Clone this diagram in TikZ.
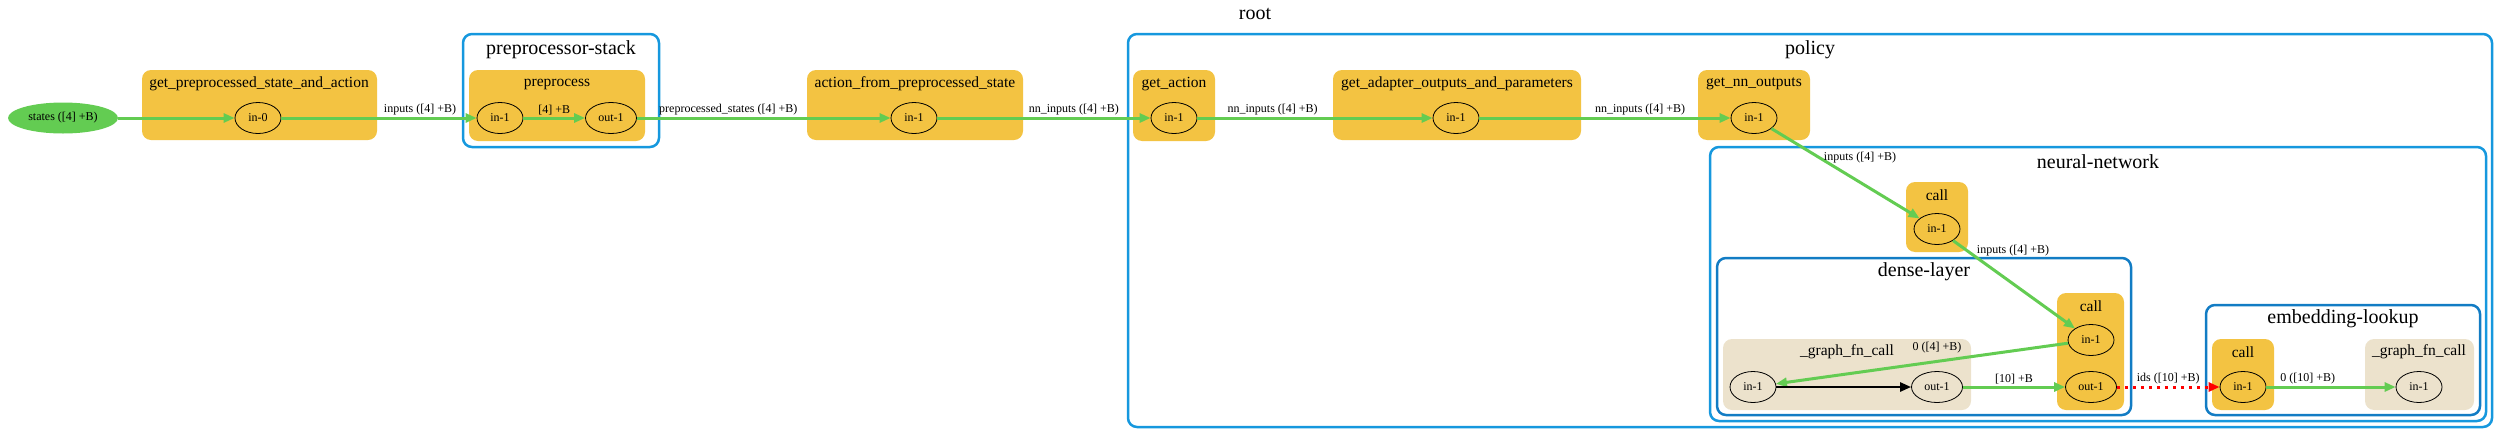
\documentclass[tikz,border=0pt]{standalone}
\usepackage{fontspec}
\setmainfont{Liberation Serif}
\usetikzlibrary{shapes.geometric,arrows.meta}

\definecolor{clusterblue}{RGB}{22,152,222}
\definecolor{innerblue}{RGB}{18,124,196}
\definecolor{fnyellow}{RGB}{243,195,66}
\definecolor{graphtan}{RGB}{236,226,204}
\definecolor{flowgreen}{RGB}{99,204,82}

\tikzset{
  cluster/.style={draw=clusterblue, line width=2.5pt, rounded corners=9pt},
  subcluster/.style={cluster, draw=innerblue},
  fnbox/.style={fill=fnyellow, rounded corners=9pt},
  graphbox/.style={fill=graphtan, rounded corners=9pt},
  clustertitle/.style={font=\fontsize{20}{24}\selectfont, inner sep=0pt},
  boxtitle/.style={font=\fontsize{15.5}{18}\selectfont, inner sep=0pt},
  port/.style={ellipse, draw, line width=0.8pt, minimum width=46pt, minimum height=31pt,
    inner sep=0pt, font=\fontsize{12}{14}\selectfont},
  flow/.style={->, draw=flowgreen, line width=3pt},
  elabel/.style={font=\fontsize{12}{14}\selectfont, inner sep=1pt, text=black},
}

\begin{document}
\begin{tikzpicture}[x=1pt, y=-1pt, >={Triangle[length=11pt, width=9pt]}]
\useasboundingbox (0,0) rectangle (2510,445);

% clusters
\node[clustertitle] (roottitle) at (1255,14) {root};
\draw[cluster] (463,34) rectangle (659,147);
\node[clustertitle] (stacktitle) at (561,50) {preprocessor-stack};
\draw[cluster] (1128,34) rectangle (2492,427);
\node[clustertitle] (policytitle) at (1810,50) {policy};
\draw[cluster] (1710,147) rectangle (2486,421);
\node[clustertitle] (nntitle) at (2098,162) {neural-network};
\draw[subcluster] (1717,258) rectangle (2131,415);
\node[clustertitle] (densetitle) at (1924,272) {dense-layer};
\draw[subcluster] (2206,305) rectangle (2480,415);
\node[clustertitle] (embtitle) at (2343,319) {embedding-lookup};

% function boxes
\fill[fnbox] (142,70) rectangle (377,140);
\node[boxtitle] (gpsatitle) at (259,84) {get\_preprocessed\_state\_and\_action};
\fill[fnbox] (469,70) rectangle (645,141);
\node[boxtitle] (pptitle) at (557,84) {preprocess};
\fill[fnbox] (807,70) rectangle (1023,140);
\node[boxtitle] (afpstitle) at (915,84) {action\_from\_preprocessed\_state};
\fill[fnbox] (1133,70) rectangle (1215,141);
\node[boxtitle] (gatitle) at (1174,84) {get\_action};
\fill[fnbox] (1333,70) rectangle (1581,140);
\node[boxtitle] (gaoptitle) at (1457,84) {get\_adapter\_outputs\_and\_parameters};
\fill[fnbox] (1698,70) rectangle (1810,140);
\node[boxtitle] (gnnotitle) at (1754,84) {get\_nn\_outputs};
\fill[fnbox] (1906,182) rectangle (1968,252);
\node[boxtitle] (nncalltitle) at (1937,195) {call};
\fill[graphbox] (1723,339) rectangle (1971,410);
\node[boxtitle] (densefntitle) at (1847,352) {\_graph\_fn\_call};
\fill[fnbox] (2057,293) rectangle (2124,410);
\node[boxtitle] (densecalltitle) at (2091,306) {call};
\fill[fnbox] (2212,339) rectangle (2274,410);
\node[boxtitle] (embcalltitle) at (2243,352) {call};
\fill[graphbox] (2365,339) rectangle (2474,410);
\node[boxtitle] (embfntitle) at (2419,352) {\_graph\_fn\_call};

% ports
\node[port, fill=flowgreen, draw=none, minimum width=110pt] (states) at (63,118) {states ([4] +B)};
\node[port] (gpsain) at (258,118) {in-0};
\node[port] (ppin) at (500,118) {in-1};
\node[port, minimum width=51pt] (ppout) at (611,118) {out-1};
\node[port] (afpsin) at (914,118) {in-1};
\node[port] (gain) at (1174,118) {in-1};
\node[port] (gaopin) at (1456,118) {in-1};
\node[port] (gnnoin) at (1754,118) {in-1};
\node[port] (nncallin) at (1937,229) {in-1};
\node[port] (densein) at (2091,340) {in-1};
\node[port, minimum width=51pt] (denseout) at (2091,387) {out-1};
\node[port] (densefnin) at (1753,387) {in-1};
\node[port, minimum width=51pt] (densefnout) at (1937,387) {out-1};
\node[port] (embin) at (2243,387) {in-1};
\node[port] (embfnin) at (2419,387) {in-1};

% edges
\draw[flow] (states) -- (gpsain);
\draw[flow] (gpsain) -- node[elabel, pos=0.71, above] {inputs ([4] +B)} (ppin);
\draw[flow] (ppin) -- node[elabel, above] {[4] +B} (ppout);
\draw[flow] (ppout) -- node[elabel, pos=0.36, above] {preprocessed\_states ([4] +B)} (afpsin);
\draw[flow] (afpsin) -- node[elabel, pos=0.64, above] {nn\_inputs ([4] +B)} (gain);
\draw[flow] (gain) -- node[elabel, pos=0.32, above] {nn\_inputs ([4] +B)} (gaopin);
\draw[flow] (gaopin) -- node[elabel, pos=0.64, above] {nn\_inputs ([4] +B)} (gnnoin);
\draw[flow] (gnnoin) -- (nncallin);
\node[elabel] (nninlabel) at (1860,158) {inputs ([4] +B)};
\draw[flow] (nncallin) -- (densein);
\node[elabel] (denseinlabel) at (2013,251) {inputs ([4] +B)};
\draw[flow] (densein) -- (densefnin);
\node[elabel] (densefnlabel) at (1937,348) {0 ([4] +B)};
\draw[->, line width=2.5pt] (densefnin) -- (densefnout);
\draw[flow] (densefnout) -- node[elabel, above] {[10] +B} (denseout);
\draw[->, red, line width=3pt, dash pattern=on 3pt off 5pt] (denseout) -- node[elabel, above] {ids ([10] +B)} (embin);
\draw[flow] (embin) -- node[elabel, pos=0.32, above] {0 ([10] +B)} (embfnin);
\end{tikzpicture}
\end{document}
